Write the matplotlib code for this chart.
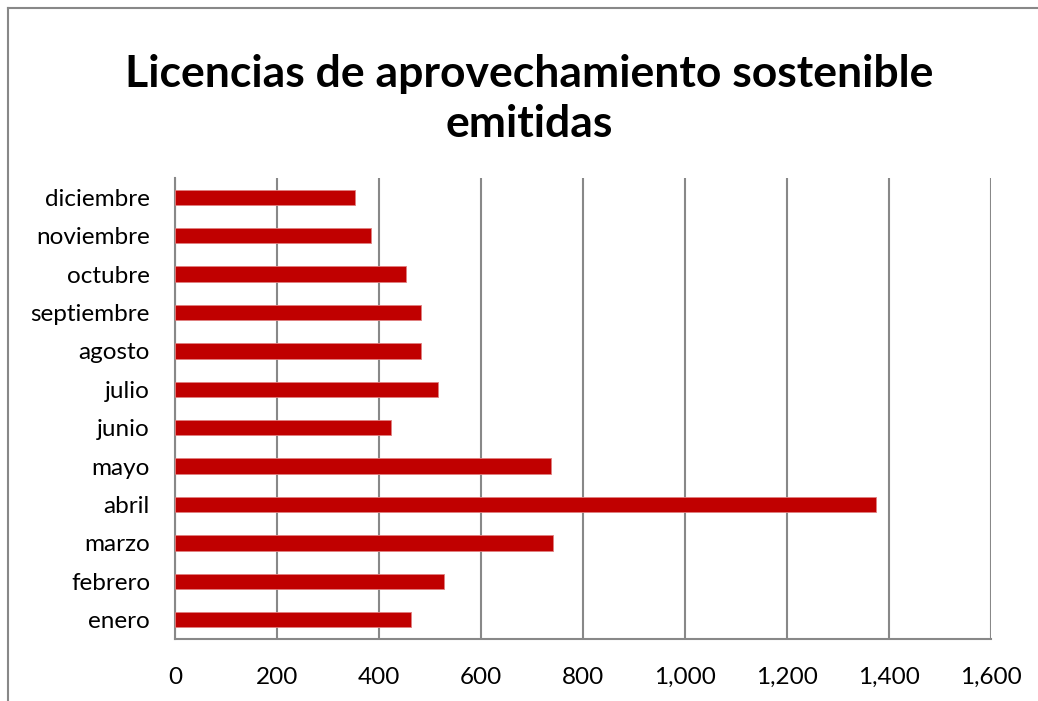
import matplotlib.pyplot as plt
from matplotlib.lines import Line2D
from matplotlib.ticker import FuncFormatter

meses = ['enero', 'febrero', 'marzo', 'abril', 'mayo', 'junio', 'julio',
         'agosto', 'septiembre', 'octubre', 'noviembre', 'diciembre']
licencias = [462, 528, 742, 1374, 737, 424, 516, 482, 483, 452, 384, 353]
xticks = [0, 200, 400, 600, 800, 1000, 1200, 1400, 1600]

plt.rcParams['font.family'] = ['Lato', 'DejaVu Sans']

fig = plt.figure(figsize=(10.38, 7.01), dpi=100)
ax = fig.add_axes([175 / 1038, 1 - 639 / 701, (991 - 175) / 1038, (639 - 178) / 701])

ax.barh(range(len(meses)), licencias, height=0.4, color='#C00000',
        edgecolor='#E08080', linewidth=0.6, zorder=3)

ax.set_xlim(0, 1600)
ax.set_ylim(-0.5, len(meses) - 0.5)
ax.set_xticks(xticks)
ax.xaxis.set_major_formatter(FuncFormatter(lambda v, p: f'{int(v):,}'))
ax.set_yticks(range(len(meses)))
ax.set_yticklabels(meses)
ax.tick_params(axis='both', length=0, labelsize=17.5, colors='black')
ax.tick_params(axis='x', pad=20)
ax.tick_params(axis='y', pad=18)

ax.grid(axis='x', color='#888888', linewidth=1.5, zorder=0)
for s in ['top', 'right']:
    ax.spines[s].set_visible(False)
for s in ['left', 'bottom']:
    ax.spines[s].set_color('#888888')
    ax.spines[s].set_linewidth(1.5)

fig.text(529 / 1038, 1 - 99 / 701, 'Licencias de aprovechamiento sostenible\nemitidas',
         ha='center', va='center', fontsize=32, fontweight='bold',
         linespacing=1.3)

# outer chart border (only top and left visible in the crop)
fig.add_artist(Line2D([8 / 1038, 1], [1 - 8 / 701, 1 - 8 / 701],
                      transform=fig.transFigure, color='#888888', linewidth=1.5))
fig.add_artist(Line2D([8 / 1038, 8 / 1038], [0, 1 - 8 / 701],
                      transform=fig.transFigure, color='#888888', linewidth=1.5))

fig.savefig('out.png', dpi=100)
